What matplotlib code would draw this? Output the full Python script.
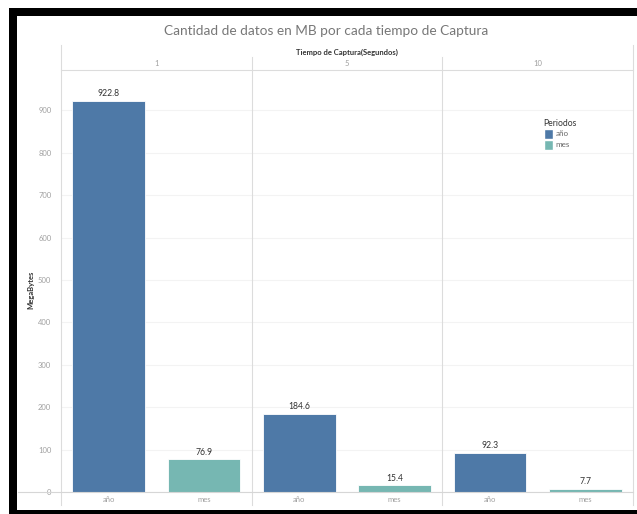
import matplotlib
matplotlib.use("Agg")
import matplotlib.pyplot as plt
from matplotlib.patches import Rectangle, Patch
from matplotlib.lines import Line2D
import matplotlib.transforms as mtransforms

# ---- data ----
capture_times = ["1", "5", "10"]
periods = ["año", "mes"]
values_anio = [922.8, 184.6, 92.3]
values_mes = [76.9, 15.4, 7.7]
y_ticks = [0, 100, 200, 300, 400, 500, 600, 700, 800, 900]

col_anio = "#4e79a7"
col_mes = "#76b7b2"

plt.rcParams['font.family'] = ['Lato', 'DejaVu Sans']

W, H = 637, 514
fig = plt.figure(figsize=(W / 100, H / 100), dpi=100)
fig.patch.set_facecolor("white")

def fx(px):
    return px / W

def fy(py):
    return 1 - py / H

ax_l, ax_r, ax_t, ax_b = 61, 633, 70, 492
ax = fig.add_axes([fx(ax_l), fy(ax_b), fx(ax_r) - fx(ax_l), fy(ax_t) - fy(ax_b)])

# positions: each panel two slots
xs_anio = [2 * i for i in range(len(capture_times))]
xs_mes = [2 * i + 1 for i in range(len(capture_times))]
bw = 0.76
ax.bar(xs_anio, values_anio, width=bw, color=col_anio, edgecolor="white", linewidth=0.6, zorder=3)
ax.bar(xs_mes, values_mes, width=bw, color=col_mes, edgecolor="white", linewidth=0.6, zorder=3)

for x, v in zip(xs_anio + xs_mes, values_anio + values_mes):
    ax.annotate(f"{v:.1f}", (x, v), xytext=(0, 2), textcoords="offset points",
                ha="center", va="bottom", fontsize=6.2, color="#333333")

ax.set_xlim(-0.5, 2 * len(capture_times) - 0.5)
ax.set_ylim(0, 995)
ax.set_yticks(y_ticks)
ax.set_yticklabels([str(t) for t in y_ticks])
ax.set_xticks(xs_anio + xs_mes)
ax.set_xticklabels([periods[0]] * len(xs_anio) + [periods[1]] * len(xs_mes))
ax.tick_params(axis="both", length=0, labelsize=5.5, labelcolor="#a0a0a0")
ax.tick_params(axis="y", pad=7)
ax.tick_params(axis="x", pad=3)
ax.grid(axis="y", color="#f3f3f3", linewidth=0.8, zorder=0)
ax.set_axisbelow(True)

for s in ["left", "right", "bottom"]:
    ax.spines[s].set_visible(False)
ax.spines["top"].set_color("#dcdcdc")
ax.spines["top"].set_linewidth(0.8)

# panel separators
sep_col = "#dcdcdc"
lo = -(505 - ax_b) / (ax_b - ax_t)
hi_inner = (ax_b - 57) / (ax_b - ax_t)
hi_outer = (ax_b - 45) / (ax_b - ax_t)
for i in range(1, len(capture_times)):
    ax.axvline(2 * i - 0.5, ymin=lo, ymax=hi_inner, color=sep_col, lw=0.8, clip_on=False, zorder=1)
for xv in [-0.5, 2 * len(capture_times) - 0.5]:
    ax.axvline(xv, ymin=lo, ymax=hi_outer, color=sep_col, lw=0.8, clip_on=False, zorder=1)

# zero line extended across label area
fig.add_artist(Line2D([fx(18), fx(ax_r)], [fy(ax_b), fy(ax_b)], color="#d6d6d6", lw=0.8))

# column headers
trans = mtransforms.blended_transform_factory(ax.transData, ax.transAxes)
for i, lab in enumerate(capture_times):
    ax.text(2 * i + 0.5, (ax_b - 64) / (ax_b - ax_t), lab, transform=trans,
            ha="center", va="center", fontsize=5.5, color="#a0a0a0")
ax.text(2.5, (ax_b - 52) / (ax_b - ax_t), "Tiempo de Captura(Segundos)", transform=trans,
        ha="center", va="center", fontsize=5.5, color="#333333", fontweight="bold")

# title
fig.text(fx(326), fy(31), "Cantidad de datos en MB por cada tiempo de Captura",
         ha="center", va="center", fontsize=9.8, color="#777777")

# y label
fig.text(fx(31), fy(290), "MegaBytes", rotation=90, ha="center", va="center",
         fontsize=5.5, color="#333333", fontweight="bold")

# legend
handles = [Patch(facecolor=col_anio, edgecolor="white", label=periods[0]),
           Patch(facecolor=col_mes, edgecolor="white", label=periods[1])]
leg = fig.legend(handles=handles, title="Periodos", loc="upper left",
                 bbox_to_anchor=(fx(538), fy(113)), frameon=False, fontsize=5.8,
                 title_fontsize=6.2, handlelength=1.1, handleheight=1.5,
                 handletextpad=0.4, labelspacing=0.15, alignment="left", borderpad=0.2)
for t in leg.get_texts():
    t.set_color("#666666")
leg.get_title().set_color("#333333")

# black frame
fig.add_artist(Rectangle((fx(9), fy(16)), fx(637) - fx(9), fy(8) - fy(16),
                         transform=fig.transFigure, facecolor="black", edgecolor="none"))
fig.add_artist(Rectangle((fx(9), fy(514)), fx(17) - fx(9), fy(8) - fy(514),
                         transform=fig.transFigure, facecolor="black", edgecolor="none"))
fig.add_artist(Rectangle((fx(9), fy(514)), fx(637) - fx(9), fy(510) - fy(514),
                         transform=fig.transFigure, facecolor="black", edgecolor="none"))

fig.savefig("out.png", dpi=100, facecolor="white")
